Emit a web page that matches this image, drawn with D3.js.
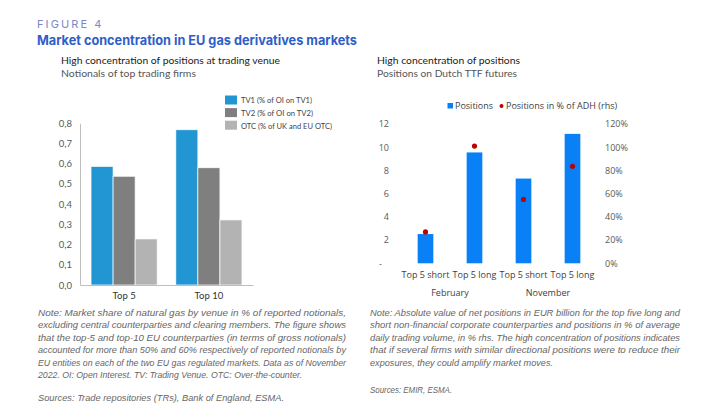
<!DOCTYPE html>
<html><head><meta charset="utf-8">
<script src="https://cdn.jsdelivr.net/npm/d3@7/dist/d3.min.js"></script>
<style>
body{margin:0;background:#fff;}
svg{display:block;}
</style></head>
<body>
<svg id="c" width="704" height="412"></svg>
<script>
// ---------- DATA ----------
const leftCategories = ["Top 5", "Top 10"];
const leftSeries = ["TV1 (% of OI on TV1)", "TV2 (% of OI on TV2)", "OTC (% of UK and EU OTC)"];
const tv1Values = [0.587, 0.768];
const tv2Values = [0.538, 0.580];
const otcValues = [0.228, 0.322];
const leftTicks = [0, 0.1, 0.2, 0.3, 0.4, 0.5, 0.6, 0.7, 0.8];

const rightCategories = ["Top 5 short", "Top 5 long", "Top 5 short ", "Top 5 long "];
const rightGroups = ["February", "November"];
const positionValues = [2.52, 9.55, 7.3, 11.15];
const pctADHValues = [0.27, 1.01, 0.55, 0.835];
const rightTicksLeft = [0, 2, 4, 6, 8, 10, 12];
const rightTicksRight = [0, 0.2, 0.4, 0.6, 0.8, 1.0, 1.2];

const leftNote = [
 "Note:  Market share of natural gas by venue in % of reported notionals,",
 "excluding central counterparties and clearing members. The figure shows",
 "that the top-5 and top-10 EU counterparties (in terms of gross notionals)",
 "accounted for more than 50% and 60% respectively of reported notionals by",
 "EU entities on each of the two EU gas regulated markets. Data as of November",
 "2022. OI: Open Interest. TV: Trading Venue. OTC: Over-the-counter."
];
const leftSources = "Sources: Trade repositories (TRs), Bank of England, ESMA.";
const rightNote = [
 "Note: Absolute value of net positions in EUR billion for the top five long and",
 "short non-financial corporate counterparties and positions in % of average",
 "daily trading volume, in % rhs. The high concentration of positions indicates",
 "that if several firms with similar directional positions were to reduce their",
 "exposures, they could amplify market moves."
];
const rightSources = "Sources: EMIR, ESMA.";

// ---------- DRAW ----------
const svg = d3.select("#c");
const chartFont = "Lato, 'Open Sans', sans-serif";
const axisCol = "#595959";

// Header
svg.append("text").attr("x", 37).attr("y", 27.5).text("FIGURE 4")
  .attr("font-family", "Inter, sans-serif").attr("font-size", 11).attr("letter-spacing", 2.1)
  .attr("fill", "#7d86c6");
svg.append("text").attr("x", 37).attr("y", 45).text("Market concentration in EU gas derivatives markets")
  .attr("font-family", "Inter, sans-serif").attr("font-weight", 700).attr("font-size", 13)
  .attr("textLength", 320).attr("lengthAdjust", "spacingAndGlyphs")
  .attr("fill", "#2f5ec8");

// Subtitles
function subtitle(x, t1, t2, w1, w2) {
  svg.append("text").attr("x", x).attr("y", 63.5).text(t1)
    .attr("font-family", chartFont).attr("font-size", 10).attr("fill", "#1a1a1a")
    .attr("textLength", w1).attr("lengthAdjust", "spacingAndGlyphs");
  svg.append("text").attr("x", x).attr("y", 77).text(t2)
    .attr("font-family", chartFont).attr("font-size", 10).attr("fill", "#555")
    .attr("textLength", w2).attr("lengthAdjust", "spacingAndGlyphs");
}
subtitle(61, "High concentration of positions at trading venue", "Notionals of top trading firms", 219, 135);
subtitle(377, "High concentration of positions", "Positions on Dutch TTF futures", 143, 140);

// ---------- LEFT CHART ----------
const ly = d3.scaleLinear().domain([0, 0.8]).range([285, 123.3]);
const lx0 = d3.scaleBand().domain(leftCategories).range([80, 253]).paddingInner(0.22).paddingOuter(0.13);
const lx1 = d3.scaleBand().domain(leftSeries).range([0, lx0.bandwidth()]);
const leftColors = d3.scaleOrdinal().domain(leftSeries).range(["#2196d3", "#7f7f7f", "#b3b3b3"]);
const leftData = leftCategories.map((c, i) => ({cat: c, vals: [tv1Values[i], tv2Values[i], otcValues[i]]}));

const gL = svg.append("g");
gL.selectAll("g.grp").data(leftData).join("g")
  .attr("transform", d => `translate(${lx0(d.cat)},0)`)
  .selectAll("rect").data(d => leftSeries.map((s, j) => ({s, v: d.vals[j]}))).join("rect")
  .attr("x", d => lx1(d.s)).attr("width", lx1.bandwidth())
  .attr("y", d => ly(d.v)).attr("height", d => ly(0) - ly(d.v))
  .attr("fill", d => leftColors(d.s)).attr("stroke", "#fff").attr("stroke-width", 0.7);

const lyAxis = d3.axisLeft(ly).tickValues(leftTicks).tickSize(0).tickPadding(8)
  .tickFormat(d => d3.format(".1f")(d).replace(".", ","));
const gLy = gL.append("g").attr("transform", "translate(80,0)").call(lyAxis);
gLy.select(".domain").attr("stroke", "#bfbfbf");
gLy.selectAll("text").attr("font-family", chartFont).attr("font-size", 9.5).attr("fill", axisCol);

const lxAxis = d3.axisBottom(lx0).tickSize(0).tickPadding(7);
const gLx = gL.append("g").attr("transform", "translate(0,285)").call(lxAxis);
gLx.select(".domain").attr("stroke", "#bfbfbf").attr("stroke-width", 1.2);
gLx.selectAll("text").attr("font-family", chartFont).attr("font-size", 9.5).attr("fill", "#333");

// left legend
const lLeg = gL.append("g").attr("transform", "translate(225,95.5)");
const legW = [71, 72, 91];
leftSeries.forEach((s, i) => {
  const row = lLeg.append("g").attr("transform", `translate(0,${i * 12.6})`);
  row.append("rect").attr("width", 12).attr("height", 9).attr("fill", leftColors(s));
  row.append("text").attr("x", 16).attr("y", 7.8).text(s)
    .attr("font-family", chartFont).attr("font-size", 7.9).attr("fill", "#444")
    .attr("textLength", legW[i]).attr("lengthAdjust", "spacingAndGlyphs");
});

// ---------- RIGHT CHART ----------
const ry = d3.scaleLinear().domain([0, 12]).range([263.3, 124]);
const ry2 = d3.scaleLinear().domain([0, 1.2]).range([263.3, 124]);
const rx = d3.scaleBand().domain(rightCategories).range([401, 597]).paddingInner(0.68).paddingOuter(0.34);
const rightFont = "'Open Sans', sans-serif";

const gR = svg.append("g");
gR.selectAll("rect.bar").data(positionValues).join("rect").attr("class", "bar")
  .attr("x", (d, i) => rx(rightCategories[i])).attr("width", rx.bandwidth())
  .attr("y", d => ry(d)).attr("height", d => ry(0) - ry(d))
  .attr("fill", "#0a80f7");
gR.selectAll("circle.dot").data(pctADHValues).join("circle").attr("class", "dot")
  .attr("cx", (d, i) => rx(rightCategories[i]) + rx.bandwidth() / 2)
  .attr("cy", d => ry2(d)).attr("r", 2.6).attr("fill", "#c00000");

const ryAxis = d3.axisLeft(ry).tickValues(rightTicksLeft).tickSize(0)
  .tickFormat(d => d === 0 ? "-" : d3.format("d")(d));
const gRy = gR.append("g").attr("transform", "translate(389,0)").call(ryAxis);
gRy.select(".domain").remove();
gRy.selectAll("text").attr("x", 0).attr("font-family", rightFont).attr("font-size", 9).attr("fill", axisCol)
  .filter(d => d === 0).attr("x", -7);

const ry2Axis = d3.axisRight(ry2).tickValues(rightTicksRight).tickSize(0).tickFormat(d3.format(".0%"));
const gRy2 = gR.append("g").attr("transform", "translate(605,0)").call(ry2Axis);
gRy2.select(".domain").remove();
gRy2.selectAll("text").attr("x", 0).attr("font-family", rightFont).attr("font-size", 9).attr("fill", axisCol);

const rxAxis = d3.axisBottom(rx).tickSize(0).tickPadding(8);
const gRx = gR.append("g").attr("transform", "translate(0,264)").call(rxAxis);
gRx.select(".domain").remove();
gRx.selectAll("text").attr("font-family", rightFont).attr("font-size", 9).attr("fill", "#404040");

rightGroups.forEach((g, i) => {
  const a = rx(rightCategories[i * 2]), b = rx(rightCategories[i * 2 + 1]) + rx.bandwidth();
  gR.append("text").attr("x", (a + b) / 2).attr("y", 295.5).attr("text-anchor", "middle").text(g)
    .attr("font-family", rightFont).attr("font-size", 9).attr("fill", "#404040");
});

// right legend
gR.append("rect").attr("x", 447.5).attr("y", 103).attr("width", 5.5).attr("height", 5.5).attr("fill", "#0a80f7");
gR.append("text").attr("x", 455).attr("y", 109).text("Positions")
  .attr("font-family", rightFont).attr("font-size", 9).attr("fill", "#404040");
gR.append("circle").attr("cx", 501.5).attr("cy", 106).attr("r", 2).attr("fill", "#c00000");
gR.append("text").attr("x", 506).attr("y", 109).text("Positions in % of ADH (rhs)")
  .attr("font-family", rightFont).attr("font-size", 9).attr("fill", "#404040");

// ---------- NOTES ----------
function notes(x, width, lines, lastW, src, srcW, srcY) {
  lines.forEach((l, i) => {
    const t = svg.append("text").attr("x", x).attr("y", 316 + i * 12.4).text(l)
      .attr("font-family", "'Liberation Sans', Arial, sans-serif").attr("font-style", "italic")
      .attr("font-size", 8.3).attr("fill", "#666")
      .attr("lengthAdjust", "spacingAndGlyphs");
    t.attr("textLength", i === lines.length - 1 ? lastW : width);
  });
  svg.append("text").attr("x", x).attr("y", srcY).text(src)
    .attr("font-family", "'Liberation Sans', Arial, sans-serif").attr("font-style", "italic")
    .attr("font-size", 8.3).attr("fill", "#666")
    .attr("textLength", srcW).attr("lengthAdjust", "spacingAndGlyphs");
}
notes(38, 308, leftNote, 264, leftSources, 246, 401);
notes(370, 310, rightNote, 183, rightSources, 82, 392.5);
</script>
</body></html>
